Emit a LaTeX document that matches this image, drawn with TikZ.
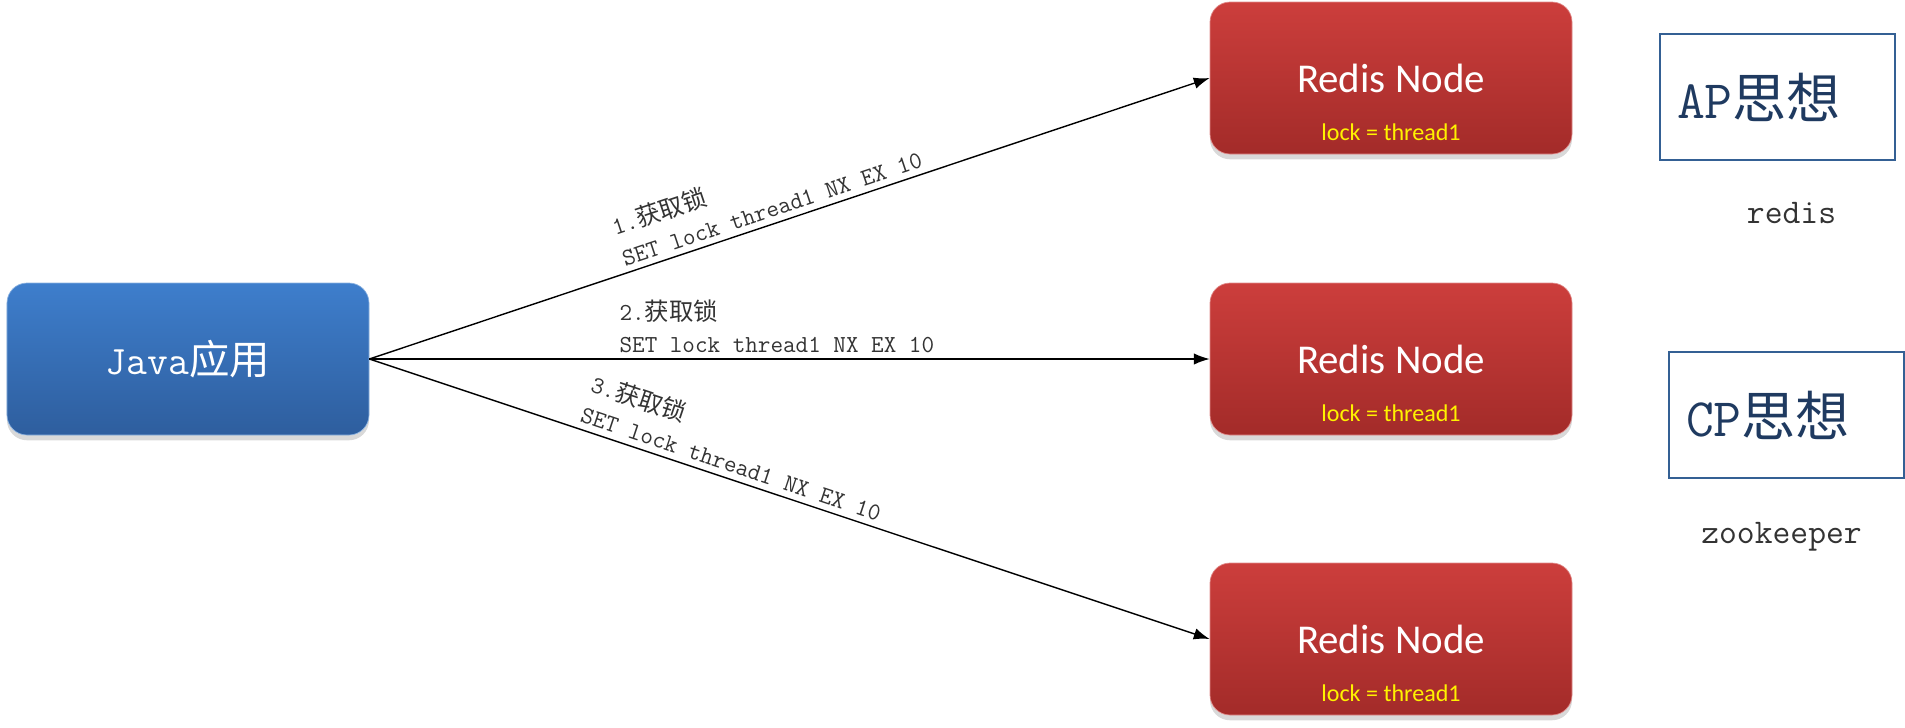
\documentclass[tikz,border=0pt]{standalone}
\usepackage{fontspec}
\newfontfamily\cjk{Noto Sans CJK SC}
\newfontfamily\calibri{Carlito}
\usetikzlibrary{positioning,shadows,arrows.meta}
\definecolor{bluetop}{RGB}{62,126,204}
\definecolor{bluebot}{RGB}{46,94,158}
\definecolor{redtop}{RGB}{204,62,60}
\definecolor{redbot}{RGB}{163,43,41}
\definecolor{ideaedge}{RGB}{52,96,148}
\definecolor{ideatext}{RGB}{31,58,96}
\definecolor{lblgrey}{RGB}{51,51,51}

\begin{document}
\begin{tikzpicture}[>={Latex[length=9pt,width=6.5pt]},
  app/.style={rounded corners=0.4cm,minimum width=7.24cm,minimum height=3.04cm,top color=bluetop,bottom color=bluebot,draw=bluetop!60!white,drop shadow={shadow xshift=0pt,shadow yshift=-3pt,opacity=0.3},text=white,font=\fontsize{23}{26}\ttfamily},
  redisbox/.style={rounded corners=0.4cm,minimum width=7.24cm,minimum height=3.04cm,top color=redtop,bottom color=redbot,draw=redtop!60!white,drop shadow={shadow xshift=0pt,shadow yshift=-3pt,opacity=0.3},text=white,font=\calibri\fontsize{23.3}{26}\selectfont},
  lock/.style={text=yellow,font=\calibri\fontsize{13.7}{16}\selectfont},
  lbl/.style={text=lblgrey,align=left,font=\fontsize{13.9}{18.2}\ttfamily},
  idea/.style={draw=ideaedge,line width=0.9pt,text width=4.02cm,inner xsep=0.34cm,minimum height=2.52cm,align=left,text=ideatext,font=\fontsize{30.8}{34}\ttfamily},
  tag/.style={text=lblgrey,font=\fontsize{19.7}{22}\ttfamily}]
\useasboundingbox (0,0) rectangle (38.1,-14.54);

\node[app] (j) at (3.76,-7.18) {Java{\cjk 应用}};
\node[redisbox,right of=j,node distance=24.06cm] (r2) {Redis Node};
\node[redisbox,above of=r2,node distance=5.62cm] (r1) {Redis Node};
\node[redisbox,below of=r2,node distance=5.6cm] (r3) {Redis Node};
\node[lock,above=0.14cm] (l1) at (r1.south) {lock = thread1};
\node[lock,above=0.14cm] (l2) at (r2.south) {lock = thread1};
\node[lock,above=0.14cm] (l3) at (r3.south) {lock = thread1};

\draw[->,thick] (j.east) -- node[lbl,sloped,anchor=south west,pos=0.3] {1.{\cjk 获取锁}\\SET lock thread1 NX EX 10} (r1.west);
\draw[->,thick] (j.east) -- node[lbl,anchor=south west,pos=0.29] {2.{\cjk 获取锁}\\SET lock thread1 NX EX 10} (r2.west);
\draw[->,thick] (j.east) -- node[lbl,sloped,anchor=south west,pos=0.24] {3.{\cjk 获取锁}\\SET lock thread1 NX EX 10} (r3.west);

% CAP
\node[idea] (ap) at (35.55,-1.94) {AP{\cjk 思想}};
\node[tag] (rd) at (35.83,-4.26) {redis};
\node[idea] (cp) at (35.73,-8.30) {CP{\cjk 思想}};
\node[tag] (zk) at (35.63,-10.74) {zookeeper};
\end{tikzpicture}
\end{document}
